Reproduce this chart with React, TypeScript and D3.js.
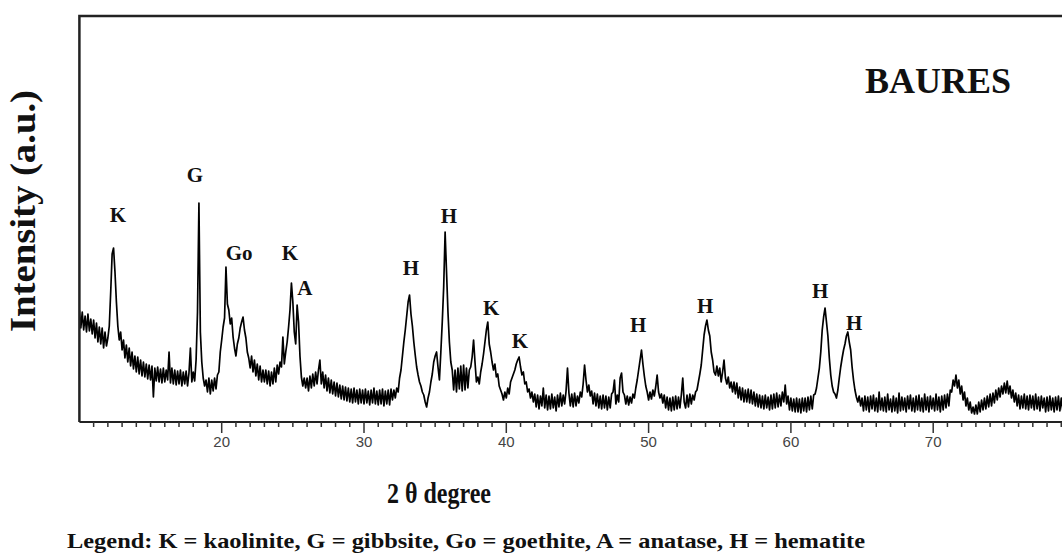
import React from 'react';
import * as d3 from 'd3';

// XRD pattern, 2θ from 10° in 0.1° steps, intensity in a.u.
const twoThetaStart = 10;
const twoThetaStep = 0.1;
const intensity = [
  112, 94, 110, 92, 106, 90, 108, 91, 103, 88,
  102, 84, 99, 80, 95, 78, 94, 74, 90, 76,
  84, 96, 130, 168, 174, 150, 120, 96, 82, 90,
  72, 82, 64, 77, 60, 74, 56, 70, 53, 66,
  50, 65, 48, 62, 46, 60, 45, 58, 43, 57,
  42, 56, 25, 54, 41, 55, 40, 53, 39, 54,
  40, 52, 42, 70, 39, 54, 38, 52, 37, 51,
  38, 52, 36, 50, 38, 51, 36, 49, 74, 40,
  50, 41, 62, 110, 219, 90, 60, 44, 36, 42,
  30, 44, 28, 42, 31, 44, 33, 47, 50, 70,
  82, 95, 104, 155, 118, 112, 98, 104, 85, 74,
  66, 78, 84, 94, 100, 105, 92, 84, 70, 64,
  54, 66, 50, 62, 46, 58, 42, 56, 40, 52,
  40, 52, 38, 51, 36, 50, 38, 54, 40, 57,
  48, 60, 55, 85, 58, 70, 80, 95, 112, 139,
  120, 90, 78, 117, 100, 66, 45, 36, 44, 34,
  44, 31, 46, 34, 48, 36, 50, 38, 52, 62,
  38, 50, 34, 47, 31, 44, 29, 42, 28, 40,
  26, 39, 25, 37, 23, 36, 22, 35, 21, 34,
  20, 33, 19, 34, 20, 32, 18, 33, 19, 32,
  18, 33, 19, 31, 17, 32, 19, 34, 18, 31,
  17, 32, 18, 33, 16, 31, 18, 32, 17, 33,
  22, 32, 24, 34, 30, 44, 52, 66, 80, 92,
  106, 120, 127, 108, 96, 80, 67, 55, 47, 40,
  36, 30, 27, 20, 15, 24, 30, 40, 48, 60,
  66, 70, 55, 42, 70, 100, 135, 190, 150, 110,
  80, 60, 52, 32, 52, 30, 54, 33, 56, 31,
  57, 32, 54, 34, 52, 55, 65, 82, 60, 40,
  45, 38, 50, 58, 68, 80, 92, 100, 78, 70,
  60, 52, 58, 45, 48, 36, 32, 28, 22, 30,
  24, 34, 28, 40, 44, 48, 52, 58, 62, 65,
  55, 47, 50, 38, 40, 30, 33, 24, 30, 20,
  28, 15, 27, 13, 26, 16, 34, 14, 27, 12,
  26, 13, 28, 14, 25, 11, 27, 15, 29, 16,
  27, 18, 31, 54, 29, 16, 28, 15, 29, 16,
  26, 19, 30, 25, 38, 57, 42, 30, 37, 26,
  31, 18, 29, 16, 28, 14, 26, 13, 27, 14,
  26, 12, 25, 14, 28, 30, 42, 18, 27, 20,
  44, 49, 30, 27, 18, 26, 17, 25, 19, 28,
  24, 34, 42, 52, 62, 72, 58, 46, 36, 30,
  22, 30, 23, 32, 26, 35, 47, 30, 24, 28,
  19, 27, 14, 25, 12, 24, 11, 25, 12, 26,
  13, 25, 14, 27, 44, 20, 14, 27, 15, 28,
  18, 27, 22, 30, 32, 40, 48, 57, 72, 87,
  96, 102, 92, 86, 70, 62, 50, 47, 56, 46,
  54, 40, 50, 62, 44, 38, 45, 34, 40, 30,
  40, 28, 39, 24, 35, 22, 34, 20, 32, 20,
  33, 19, 32, 18, 30, 16, 28, 15, 27, 14,
  26, 13, 27, 14, 25, 12, 27, 13, 28, 14,
  29, 15, 27, 16, 30, 20, 37, 18, 26, 12,
  24, 11, 23, 10, 24, 10, 23, 9, 24, 11,
  24, 10, 25, 12, 26, 13, 27, 28, 34, 44,
  54, 70, 92, 105, 114, 100, 86, 64, 47, 36,
  30, 28, 24, 32, 44, 55, 64, 72, 78, 86,
  90, 80, 72, 55, 42, 32, 25, 20, 26, 16,
  24, 11, 26, 12, 25, 10, 26, 13, 27, 11,
  24, 10, 30, 12, 24, 11, 25, 10, 28, 12,
  23, 10, 26, 11, 24, 9, 29, 11, 25, 12,
  24, 10, 26, 13, 27, 11, 24, 10, 26, 12,
  27, 11, 24, 10, 28, 12, 25, 10, 26, 13,
  24, 11, 28, 12, 25, 10, 26, 12, 27, 14,
  28, 16, 32, 30, 42, 36, 47, 34, 42, 28,
  36, 22, 30, 16, 24, 12, 20, 9, 15, 8,
  17, 8, 20, 10, 22, 12, 24, 13, 26, 15,
  28, 16, 29, 19, 32, 22, 34, 25, 36, 28,
  39, 29, 41, 28, 36, 24, 32, 20, 29, 16,
  27, 13, 26, 14, 28, 13, 26, 12, 27, 14,
  26, 12, 28, 13, 25, 11, 26, 14, 24, 10,
  25, 11, 26, 12, 24, 10, 25, 12, 26, 11,
  24, 12, 22,
];

const xTickValues = [20, 30, 40, 50, 60, 70];

// phase labels above the peaks
const peakLabels = ['K', 'G', 'Go', 'K', 'A', 'H', 'H', 'K', 'K', 'H', 'H', 'H', 'H'];
const peakLabelTheta = [12.71, 18.12, 21.22, 24.8, 25.85, 33.3, 35.97, 38.94, 40.96, 49.26, 53.97, 62.05, 64.44];
const peakLabelHeight = [200, 240, 162, 162, 127, 147, 199, 107, 74, 90, 109, 124, 92];

const sampleName = 'BAURES';
const xTitle = '2 θ degree';
const yTitle = 'Intensity (a.u.)';
const legendText = 'Legend: K = kaolinite, G = gibbsite, Go = goethite, A = anatase, H = hematite';

const serif = '"Liberation Serif", "Times New Roman", serif';
const sans = '"Liberation Sans", Arial, sans-serif';

export default function App() {
  const width = 1062;
  const height = 558;

  const x = d3.scaleLinear().domain([10, 80]).range([79.4, 1075.5]);
  const y = d3.scaleLinear().domain([0, 406]).range([422, 16]);

  const points: [number, number][] = intensity.map((v, i) => [twoThetaStart + i * twoThetaStep, v]);
  const line = d3.line<[number, number]>()
    .x(d => x(d[0]))
    .y(d => y(d[1]));

  const minorTicks = d3.range(11, 80, 1);
  const x0 = x(10);
  const yBottom = y(0);
  const yTop = y(406);

  return (
    <svg width={width} height={height} style={{ position: 'absolute', left: 0, top: 0, background: '#fff' }}>
      <defs>
        <clipPath id="plot">
          <rect x={x0} y={yTop} width={x(80) - x0} height={yBottom - yTop} />
        </clipPath>
      </defs>

      <path d={line(points) ?? ''} fill="none" stroke="#000" strokeWidth={1.7} strokeLinejoin="round" clipPath="url(#plot)" />

      {/* frame */}
      <path d={`M${x0},${yBottom} V${yTop} H${width}`} fill="none" stroke="#222" strokeWidth={2.5} />
      <line x1={x0} x2={width} y1={yBottom} y2={yBottom} stroke="#222" strokeWidth={2} />

      {minorTicks.map(t => (
        <line key={t} x1={x(t)} x2={x(t)} y1={yBottom} y2={yBottom + (t % 10 === 0 ? 11 : 5)} stroke="#333" strokeWidth={1.5} />
      ))}
      {xTickValues.map(t => (
        <text key={t} x={x(t)} y={447} textAnchor="middle" fontFamily={sans} fontSize={15} fill="#444">{t}</text>
      ))}

      {peakLabels.map((lab, i) => (
        <text key={i} x={x(peakLabelTheta[i])} y={y(peakLabelHeight[i])} textAnchor="middle"
          fontFamily={serif} fontWeight="bold" fontSize={21} fill="#111">{lab}</text>
      ))}

      <text x={865} y={93} fontFamily={serif} fontWeight="bold" fontSize={36} fill="#111">{sampleName}</text>

      <text transform={`translate(35, 211) rotate(-90)`} textAnchor="middle" fontFamily={serif} fontWeight="bold"
        fontSize={36} textLength={242} lengthAdjust="spacingAndGlyphs" fill="#111">{yTitle}</text>

      <text x={439} y={503} textAnchor="middle" fontFamily={serif} fontWeight="bold" fontSize={30}
        textLength={104} lengthAdjust="spacingAndGlyphs" fill="#111">{xTitle}</text>

      <text x={67} y={548} fontFamily={serif} fontWeight="bold" fontSize={21}
        textLength={798} lengthAdjust="spacingAndGlyphs" fill="#111">{legendText}</text>
    </svg>
  );
}
